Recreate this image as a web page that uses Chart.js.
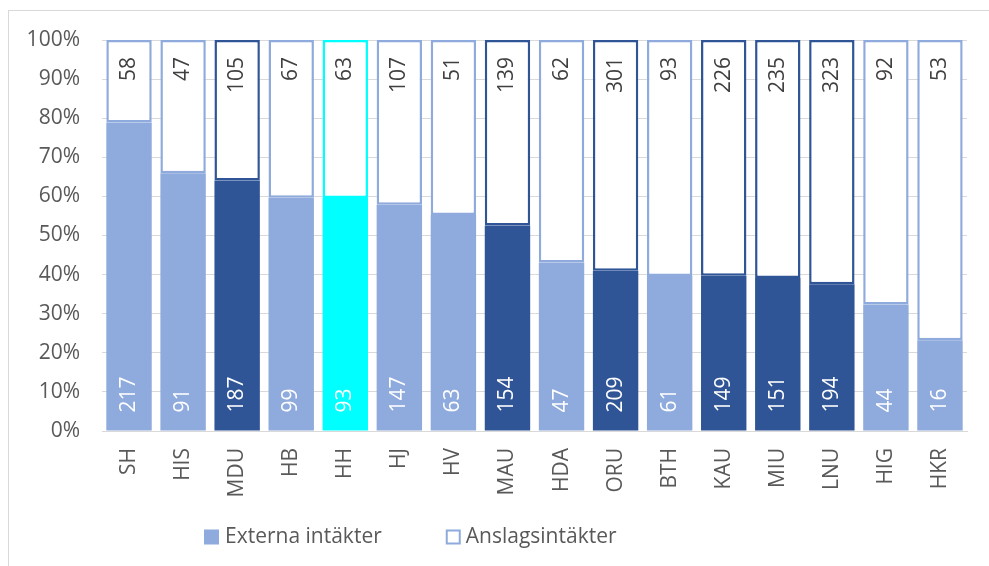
<!DOCTYPE html>
<html>
<head>
<meta charset="utf-8">
<script src="https://cdn.jsdelivr.net/npm/chart.js@4.4.1/dist/chart.umd.min.js"></script>
<style>
  html, body { margin: 0; padding: 0; background: #fff; overflow: hidden; }
  #wrap { position: relative; width: 989px; height: 566px; }
  #frame { position: absolute; left: 8px; top: 10px; width: 1000px; height: 600px; border: 1px solid #d9d9d9; }
  canvas { position: absolute; left: 0; top: 0; }
</style>
</head>
<body>
<div id="wrap">
  <div id="frame"></div>
  <canvas id="chart"></canvas>
</div>
<script>
const categories = ['SH', 'HIS', 'MDU', 'HB', 'HH', 'HJ', 'HV', 'MAU', 'HDA', 'ORU', 'BTH', 'KAU', 'MIU', 'LNU', 'HIG', 'HKR'];
const externa = [217, 91, 187, 99, 93, 147, 63, 154, 47, 209, 61, 149, 151, 194, 44, 16];
const anslag = [58, 47, 105, 67, 63, 107, 51, 139, 62, 301, 93, 226, 235, 323, 92, 53];
const yTicks = [0, 10, 20, 30, 40, 50, 60, 70, 80, 90, 100];
const seriesNames = ['Externa intäkter', 'Anslagsintäkter'];

const LIGHT = '#8faadc', DARK = '#2f5597', CYAN = '#00ffff';
const barColors = [LIGHT, LIGHT, DARK, LIGHT, CYAN, LIGHT, LIGHT, DARK, LIGHT, DARK, LIGHT, DARK, DARK, DARK, LIGHT, LIGHT];

const pct = (a, i) => a[i] / (externa[i] + anslag[i]) * 100;
const FONT = '"Open Sans", "Liberation Sans", sans-serif';
const SIZE = 21;
const TXT = '#595959';

// value labels, rotated like the Excel ones
const valueLabels = {
  id: 'valueLabels',
  afterDatasetsDraw(chart) {
    const ctx = chart.ctx;
    ctx.save();
    ctx.font = `${SIZE}px ${FONT}`;
    ctx.textBaseline = 'middle';
    [externa, anslag].forEach((vals, i) => {
      chart.getDatasetMeta(i).data.forEach((bar, j) => {
        ctx.save();
        if (i === 0) {
          ctx.translate(bar.x, bar.base - 18);
          ctx.textAlign = 'left';
          ctx.fillStyle = '#ffffff';
        } else {
          ctx.translate(bar.x, bar.y + 17);
          ctx.textAlign = 'right';
          ctx.fillStyle = '#404040';
        }
        ctx.rotate(-Math.PI / 2);
        ctx.fillText(String(vals[j]), 0, 0);
        ctx.restore();
      });
    });
    ctx.restore();
  }
};

// legend drawn by hand so the item spacing matches
const bottomLegend = {
  id: 'bottomLegend',
  afterDraw(chart) {
    const ctx = chart.ctx;
    const cy = 537;
    ctx.save();
    ctx.font = `${SIZE}px ${FONT}`;
    ctx.textBaseline = 'middle';
    ctx.textAlign = 'left';
    let x = 204;
    ctx.fillStyle = LIGHT;
    ctx.fillRect(x, cy - 7.5, 15, 15);
    x += 21;
    ctx.fillStyle = TXT;
    ctx.fillText(seriesNames[0], x, cy);
    x += ctx.measureText(seriesNames[0]).width + 64;
    ctx.fillStyle = '#fff';
    ctx.fillRect(x, cy - 7.5, 15, 15);
    ctx.strokeStyle = LIGHT;
    ctx.lineWidth = 2;
    ctx.strokeRect(x + 1, cy - 6.5, 13, 13);
    x += 20;
    ctx.fillStyle = TXT;
    ctx.fillText(seriesNames[1], x, cy);
    ctx.restore();
  }
};

new Chart(document.getElementById('chart'), {
  type: 'bar',
  data: {
    labels: categories,
    datasets: [
      { label: seriesNames[0], data: externa.map((v, i) => pct(externa, i)), backgroundColor: barColors, borderWidth: 0,
        barPercentage: 0.84, categoryPercentage: 1 },
      { label: seriesNames[1], data: anslag.map((v, i) => pct(anslag, i)), backgroundColor: '#ffffff', borderColor: barColors,
        borderWidth: 2.5, borderSkipped: false, barPercentage: 0.84, categoryPercentage: 1 },
    ]
  },
  options: {
    responsive: true, maintainAspectRatio: false, animation: false,
    layout: { padding: { left: 0, right: 22, top: 40, bottom: 45 } },
    plugins: { legend: { display: false }, tooltip: { enabled: false } },
    scales: {
      x: {
        stacked: true,
        grid: { display: false },
        border: { color: '#d9d9d9' },
        ticks: { color: TXT, font: { size: SIZE, family: FONT }, maxRotation: 90, minRotation: 90, padding: 9, autoSkip: false },
        afterFit: s => { s.height = 90; }
      },
      y: {
        stacked: true, min: 0, max: 100,
        afterBuildTicks: s => { s.ticks = yTicks.map(v => ({ value: v })); },
        grid: { color: '#d9d9d9', drawTicks: false },
        border: { display: false },
        ticks: { color: TXT, font: { size: SIZE, family: FONT }, padding: 22, callback: v => v + '%' },
        afterFit: s => { s.width = 102; }
      }
    }
  },
  plugins: [valueLabels, bottomLegend]
});
</script>
</body>
</html>
